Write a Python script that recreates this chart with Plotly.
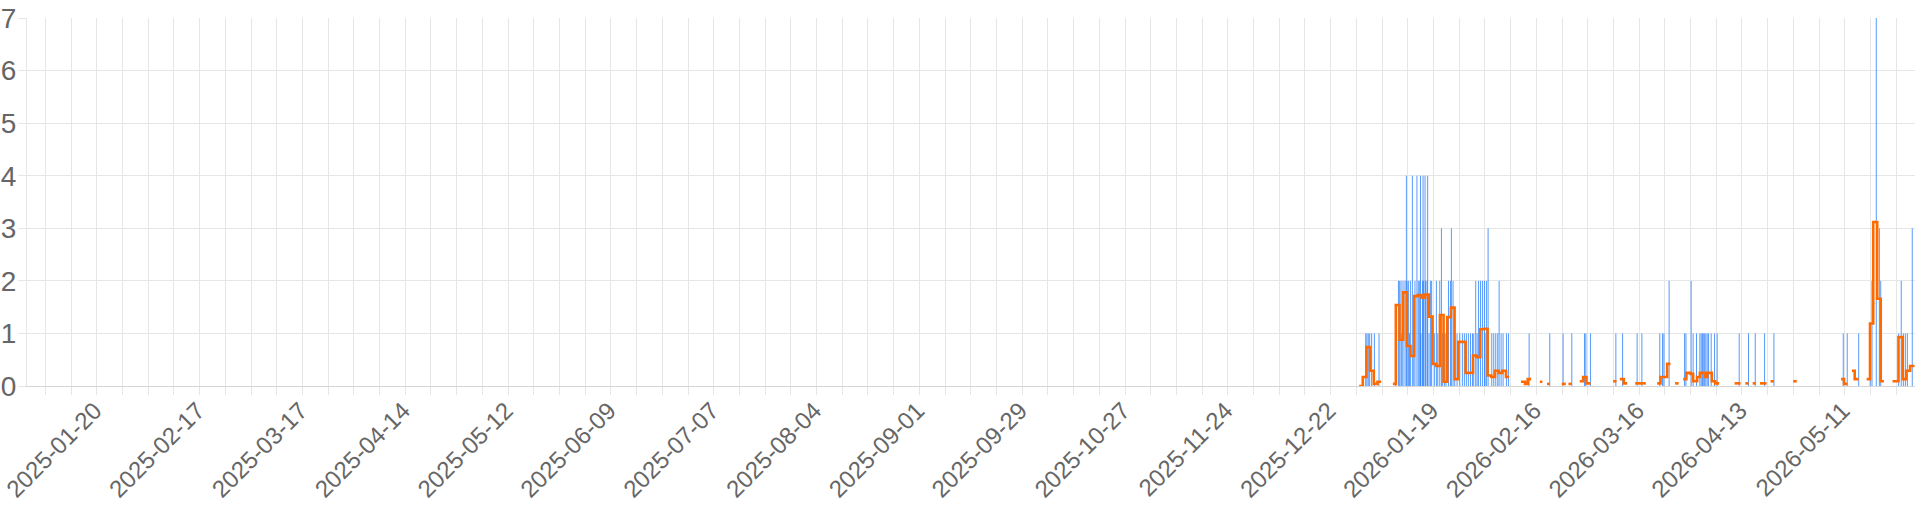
import plotly.graph_objects as go

# Blue series: event timestamps and counts
blue_times = [
    "2025-12-31 13:00", "2025-12-31 21:00", "2026-01-01 06:00", "2026-01-01 15:00",
    "2026-01-02 04:00", "2026-01-02 22:00", "2026-01-04 04:00",
    "2026-01-08 17:00", "2026-01-09 11:00", "2026-01-09 19:00", "2026-01-10 04:00",
    "2026-01-10 10:00", "2026-01-10 17:00", "2026-01-11 06:00", "2026-01-11 15:00",
    "2026-01-11 19:00", "2026-01-12 04:00", "2026-01-12 11:00", "2026-01-12 17:00",
    "2026-01-13 06:00", "2026-01-13 15:00", "2026-01-13 23:00", "2026-01-14 12:00",
    "2026-01-14 21:00", "2026-01-15 06:00", "2026-01-15 11:00", "2026-01-15 14:00",
    "2026-01-16 00:00", "2026-01-16 04:00", "2026-01-16 08:00", "2026-01-16 17:00",
    "2026-01-16 21:00", "2026-01-17 06:00", "2026-01-17 10:00", "2026-01-17 19:00",
    "2026-01-18 04:00", "2026-01-18 12:00", "2026-01-19 06:00", "2026-01-19 19:00",
    "2026-01-20 04:00", "2026-01-20 17:00", "2026-01-21 04:00", "2026-01-21 12:00",
    "2026-01-22 01:00", "2026-01-22 10:00", "2026-01-23 02:00", "2026-01-23 15:00",
    "2026-01-23 21:00", "2026-01-24 08:00", "2026-01-24 19:00", "2026-01-25 10:00",
    "2026-01-26 04:00", "2026-01-26 21:00", "2026-01-27 10:00", "2026-01-27 23:00",
    "2026-01-28 12:00", "2026-01-29 02:00", "2026-01-29 15:00", "2026-01-29 23:00",
    "2026-01-30 12:00", "2026-01-30 21:00", "2026-01-31 06:00", "2026-01-31 19:00",
    "2026-02-01 08:00", "2026-02-01 21:00", "2026-02-02 01:00", "2026-02-02 10:00",
    "2026-02-02 21:00", "2026-02-03 21:00", "2026-02-04 10:00", "2026-02-04 23:00",
    "2026-02-05 12:00", "2026-02-05 21:00", "2026-02-06 10:00", "2026-02-06 23:00",
    "2026-02-07 21:00", "2026-02-08 10:00", "2026-02-14 01:00", "2026-02-19 16:00",
    "2026-02-23 07:00", "2026-02-25 16:00", "2026-03-01 03:00", "2026-03-01 12:00",
    "2026-03-02 18:00", "2026-03-09 16:00", "2026-03-11 12:00", "2026-03-15 11:00",
    "2026-03-16 18:00", "2026-03-21 15:00", "2026-03-22 09:00", "2026-03-22 18:00",
    "2026-03-24 04:00", "2026-03-28 09:00", "2026-03-28 18:00", "2026-03-30 04:00",
    "2026-03-30 17:00", "2026-03-31 15:00", "2026-04-01 13:00", "2026-04-01 22:00",
    "2026-04-02 07:00", "2026-04-02 11:00", "2026-04-02 20:00", "2026-04-03 04:00",
    "2026-04-03 13:00", "2026-04-03 22:00", "2026-04-04 15:00", "2026-04-05 13:00",
    "2026-04-06 06:00", "2026-04-12 06:00", "2026-04-14 19:00", "2026-04-16 15:00",
    "2026-04-19 04:00", "2026-04-21 17:00", "2026-05-10 14:00", "2026-05-11 16:00",
    "2026-05-14 19:00", "2026-05-17 22:00", "2026-05-18 10:00", "2026-05-19 14:00",
    "2026-05-20 10:00", "2026-05-20 19:00", "2026-05-25 16:00", "2026-05-26 09:00",
    "2026-05-26 23:00", "2026-05-27 12:00", "2026-05-28 01:00", "2026-05-29 09:00",
]
blue_counts = [
    1, 1, 1, 1,
    1, 1, 1,
    1, 2, 2, 2,
    1, 2, 2, 4,
    2, 2, 1, 2,
    4, 1, 2, 4,
    2, 2, 4, 1,
    2, 4, 2, 4,
    2, 2, 4, 1,
    2, 2, 1, 2,
    1, 2, 3, 1,
    1, 1, 2, 2,
    3, 2, 1, 1,
    1, 1, 1, 1,
    1, 1, 1, 1,
    2, 1, 2, 2,
    2, 2, 1, 2,
    3, 1, 1, 1,
    1, 2, 1, 1,
    1, 1, 1, 1,
    1, 1, 1, 1,
    1, 1, 1, 1,
    1, 1, 1, 1,
    2, 1, 1, 2,
    1, 1, 1, 1,
    1, 1, 1, 1,
    1, 1, 1, 1,
    1, 1, 1, 1,
    1, 1, 1, 1,
    1, 1, 2, 7,
    3, 2, 1, 2,
    1, 1, 1, 3,
]

# Orange series: smoothed daily level (None = gap)
orange_times = [
    "2025-12-29 18:00", "2025-12-30 18:00", "2025-12-31 18:00", "2026-01-01 18:00",
    "2026-01-02 18:00", "2026-01-03 18:00", "2026-01-04 18:00", None,
    "2026-01-07 23:00", "2026-01-08 18:00", "2026-01-09 18:00", "2026-01-10 18:00",
    "2026-01-11 18:00", "2026-01-12 18:00", "2026-01-13 18:00", "2026-01-14 18:00",
    "2026-01-15 18:00", "2026-01-16 18:00", "2026-01-17 18:00", "2026-01-18 18:00",
    "2026-01-19 18:00", "2026-01-20 18:00", "2026-01-21 18:00", "2026-01-22 18:00",
    "2026-01-23 18:00", "2026-01-24 18:00", "2026-01-25 18:00", "2026-01-26 18:00",
    "2026-01-27 18:00", "2026-01-28 18:00", "2026-01-29 18:00", "2026-01-30 18:00",
    "2026-01-31 18:00", "2026-02-01 18:00", "2026-02-02 18:00", "2026-02-03 18:00",
    "2026-02-04 18:00", "2026-02-05 18:00", "2026-02-06 18:00", "2026-02-07 18:00",
    "2026-02-08 14:00", None,
    "2026-02-11 20:00", "2026-02-12 22:00", "2026-02-13 16:00", "2026-02-14 14:00", None,
    "2026-02-16 23:00", "2026-02-17 16:00", None,
    "2026-02-18 22:00", "2026-02-19 16:00", None,
    "2026-02-22 22:00", "2026-02-24 01:00", None,
    "2026-02-24 18:00", "2026-02-25 16:00", None,
    "2026-02-27 20:00", "2026-02-28 18:00", "2026-03-01 16:00", "2026-03-02 18:00", None,
    "2026-03-08 22:00", "2026-03-09 20:00", None,
    "2026-03-10 18:00", "2026-03-11 20:00", "2026-03-12 18:00", None,
    "2026-03-14 22:00", "2026-03-17 20:00", None,
    "2026-03-20 22:00", "2026-03-21 20:00", "2026-03-23 15:00", "2026-03-24 13:00", None,
    "2026-03-25 19:00", "2026-03-26 18:00", None,
    "2026-03-28 00:00", "2026-03-28 21:00", "2026-03-30 00:00", "2026-03-30 17:00",
    "2026-03-31 19:00", "2026-04-01 13:00", "2026-04-02 22:00", "2026-04-03 13:00",
    "2026-04-04 19:00", "2026-04-05 17:00", "2026-04-06 19:00", None,
    "2026-04-11 00:00", "2026-04-12 15:00", None,
    "2026-04-13 22:00", "2026-04-14 19:00", None,
    "2026-04-15 22:00", "2026-04-16 19:00", None,
    "2026-04-17 22:00", "2026-04-19 17:00", None,
    "2026-04-20 19:00", "2026-04-21 17:00", None,
    "2026-04-26 23:00", "2026-04-27 22:00", None,
    "2026-05-10 00:00", "2026-05-10 19:00", "2026-05-11 17:00", None,
    "2026-05-12 23:00", "2026-05-13 17:00", "2026-05-14 19:00", None,
    "2026-05-16 23:00", "2026-05-17 21:00", "2026-05-18 18:00", "2026-05-19 20:00",
    "2026-05-20 19:00", "2026-05-21 16:00", None,
    "2026-05-24 00:00", "2026-05-25 15:00", "2026-05-26 19:00", "2026-05-27 17:00",
    "2026-05-28 19:00", "2026-05-30 00:00",
]
orange_values = [
    0.0, 0.17, 0.74, 0.29,
    0.04, 0.08, 0.08, None,
    0.04, 1.54, 0.88, 1.78,
    0.76, 0.57, 1.71, 1.73,
    1.68, 1.74, 1.32, 0.42,
    0.38, 1.35, 0.08, 1.31,
    1.49, 0.13, 0.84, 0.84,
    0.25, 0.25, 0.58, 0.55,
    1.08, 1.09, 0.20, 0.17,
    0.29, 0.25, 0.29, 0.17,
    0.17, None,
    0.08, 0.04, 0.13, 0.13, None,
    0.08, 0.08, None,
    0.04, 0.04, None,
    0.04, 0.04, None,
    0.04, 0.04, None,
    0.09, 0.17, 0.05, 0.05, None,
    0.09, 0.09, None,
    0.13, 0.05, 0.05, None,
    0.05, 0.05, None,
    0.05, 0.17, 0.42, 0.42, None,
    0.05, 0.05, None,
    0.13, 0.25, 0.23, 0.09,
    0.17, 0.25, 0.17, 0.25,
    0.09, 0.05, 0.05, None,
    0.05, 0.05, None,
    0.05, 0.05, None,
    0.05, 0.05, None,
    0.05, 0.05, None,
    0.09, 0.09, None,
    0.09, 0.09, None,
    0.13, 0.04, 0.04, None,
    0.29, 0.13, 0.13, None,
    0.13, 1.19, 3.12, 1.66,
    0.09, 0.09, None,
    0.09, 0.93, 0.13, 0.29,
    0.38, 0.38,
]

x_range = ["2025-01-01 00:00", "2026-05-30 03:00"]
y_range = [0, 7]

GRID = "#e6e6e6"
TEXT = "#666666"
FONT = "Liberation Sans, Arial, Helvetica, sans-serif"
DAY_MS = 86400000

# each count is drawn as a thin vertical stroke from 0 to its value
spike_x, spike_y = [], []
for t, c in zip(blue_times, blue_counts):
    spike_x += [t, t, None]
    spike_y += [0, c, None]

fig = go.Figure()
fig.add_trace(go.Scatter(
    x=spike_x, y=spike_y, mode="lines",
    line=dict(color="rgba(30,120,250,0.75)", width=1),
    connectgaps=False, showlegend=False, hoverinfo="skip",
))
fig.add_trace(go.Scatter(
    x=orange_times, y=orange_values,
    mode="lines", line=dict(color="#ff6a00", width=2.6, shape="hv"),
    connectgaps=False, showlegend=False, hoverinfo="skip",
))

fig.update_layout(
    width=1920, height=512,
    margin=dict(l=27, r=5, t=18, b=126),
    paper_bgcolor="white", plot_bgcolor="white",
    font=dict(family=FONT, color=TEXT, size=25),
)
fig.update_xaxes(
    type="date", range=x_range, autorange=False, automargin=False,
    tick0="2025-01-20", dtick=28 * DAY_MS, tickformat="%Y-%m-%d",
    tickangle=-45, tickfont=dict(size=24, color=TEXT, family=FONT),
    ticklabeloverflow="allow", ticklabelstandoff=-8, ticklabelshift=-2,
    ticks="outside", ticklen=8, tickcolor=GRID, tickwidth=1,
    showgrid=True, gridcolor=GRID, gridwidth=1,
    showline=True, linecolor="#d4d4d4", linewidth=1,
    zeroline=False,
    minor=dict(tick0="2025-01-06", dtick=7 * DAY_MS, ticks="outside", ticklen=8,
               tickcolor=GRID, tickwidth=1, showgrid=True, gridcolor=GRID, gridwidth=1),
)
fig.update_yaxes(
    range=y_range, autorange=False, automargin=False,
    dtick=1, tick0=0, tickfont=dict(size=28, color=TEXT, family=FONT),
    ticklabeloverflow="allow",
    ticks="outside", ticklen=8, tickcolor=GRID, tickwidth=1,
    ticklabelstandoff=-4,
    showgrid=True, gridcolor=GRID, gridwidth=1,
    showline=True, linecolor=GRID, linewidth=1,
    zeroline=False,
)

# remove the browser's default 8px page margin so the figure fills the window
fig.write_html(
    "out.html",
    config={"displayModeBar": False},
    post_script="document.body.style.margin='0';",
)
